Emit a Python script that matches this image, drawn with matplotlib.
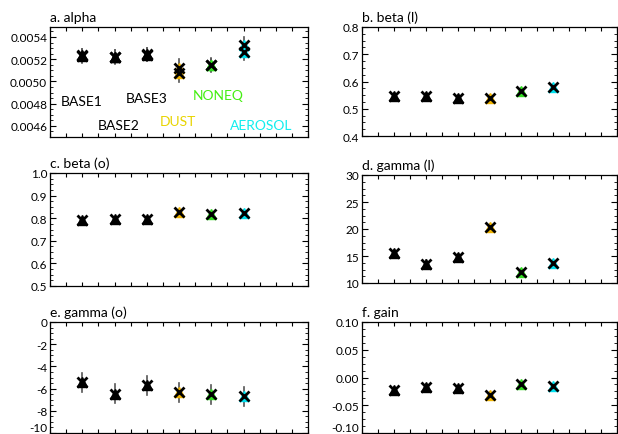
import matplotlib
matplotlib.use("Agg")
import matplotlib.pyplot as plt
from matplotlib.ticker import MultipleLocator, AutoMinorLocator, FormatStrFormatter, FixedLocator
import numpy as np

plt.rcParams['font.family'] = ['Lato', 'DejaVu Sans']

runs = ["BASE1", "BASE2", "BASE3", "DUST", "NONEQ", "AEROSOL"]
run_colors = ["#000000", "#000000", "#000000", "#f0b400", "#33dd22", "#00e0ee"]
label_colors = ["#000000", "#000000", "#000000", "#e8d400", "#44ee11", "#11eeee"]
xpos = [1, 2, 3, 4, 5, 6]

alpha_1 = [0.005236, 0.005224, 0.005245, 0.005120, 0.005150, 0.005330]
alpha_2 = [0.005230, 0.005220, 0.005240, 0.005075, 0.005145, 0.005266]
alpha_err = [0.00006, 0.00006, 0.00006, 0.00008, 0.00006, 0.00007]
beta_l = [0.547, 0.547, 0.540, 0.541, 0.565, 0.581]
beta_l_err = [0.01, 0.01, 0.01, 0.01, 0.01, 0.01]
beta_o = [0.790, 0.796, 0.795, 0.828, 0.819, 0.825]
beta_o_err = [0.01, 0.01, 0.01, 0.01, 0.01, 0.01]
gamma_l = [15.6, 13.6, 14.8, 20.3, 12.0, 13.7]
gamma_l_err = [0.6, 0.6, 0.6, 0.6, 0.6, 0.6]
gamma_o = [-5.45, -6.48, -5.72, -6.33, -6.50, -6.69]
gamma_o_err = [0.85, 0.85, 0.85, 0.85, 0.85, 0.85]
gain = [-0.0217, -0.0163, -0.0193, -0.0307, -0.0114, -0.0157]
gain_err = [0.004, 0.004, 0.004, 0.004, 0.004, 0.004]

label_x = [0.98, 2.13, 3.0, 3.97, 5.22, 6.56]
label_y = [0.004827, 0.004609, 0.004848, 0.004647, 0.004878, 0.004609]

W, H = 618, 435
fig = plt.figure(figsize=(W / 100, H / 100), dpi=100)

def pos(l, r, t, b):
    return [l / W, 1 - b / H, (r - l) / W, (b - t) / H]

panels = [
    dict(rect=pos(50, 308, 28, 138), title="a. alpha", vals=[alpha_1, alpha_2], err=alpha_err,
         ylim=(0.0045, 0.00549), yticks=[0.0046, 0.0048, 0.0050, 0.0052, 0.0054], fmt="%.4f"),
    dict(rect=pos(362, 617, 28, 137), title="b. beta (l)", vals=[beta_l], err=beta_l_err,
         ylim=(0.4, 0.8), yticks=[0.4, 0.5, 0.6, 0.7, 0.8], fmt="%.1f"),
    dict(rect=pos(50, 308, 174, 287), title="c. beta (o)", vals=[beta_o], err=beta_o_err,
         ylim=(0.5, 1.0), yticks=[0.5, 0.6, 0.7, 0.8, 0.9, 1.0], fmt="%.1f"),
    dict(rect=pos(362, 617, 176, 284), title="d. gamma (l)", vals=[gamma_l], err=gamma_l_err,
         ylim=(10, 30), yticks=[10, 15, 20, 25, 30], fmt="%d"),
    dict(rect=pos(50, 308, 323, 434), title="e. gamma (o)", vals=[gamma_o], err=gamma_o_err,
         ylim=(-10, 0), yticks=[-10, -8, -6, -4, -2, 0], fmt="%d", lift=True),
    dict(rect=pos(362, 617, 323, 434), title="f. gain", vals=[gain], err=gain_err,
         ylim=(-0.1, 0.1), yticks=[-0.10, -0.05, 0.00, 0.05, 0.10], fmt="%.2f", lift=True),
]

for i, p in enumerate(panels):
    ax = fig.add_axes(p["rect"])
    ax.set_xlim(0, 8)
    ax.set_ylim(*p["ylim"])
    for series in p["vals"]:
        for x, v, c, e in zip(xpos, series, run_colors, p["err"]):
            ax.plot([x, x], [v - e, v + e], color="#555555", lw=1.2, zorder=2)
            ax.plot(x, v, marker="^", ms=7, color=c, mec=c, ls="none", zorder=3)
    for series in p["vals"]:
        ax.plot(xpos, series, marker="x", ms=6.5, mew=2.0, color="black", ls="none", zorder=4)
    ax.xaxis.set_major_locator(MultipleLocator(0.5))
    ax.xaxis.set_ticklabels([])
    ax.yaxis.set_major_locator(FixedLocator(p["yticks"]))
    ax.yaxis.set_minor_locator(AutoMinorLocator(4))
    ax.yaxis.set_major_formatter(FormatStrFormatter(p["fmt"]))
    ax.tick_params(axis="both", which="major", direction="in", top=True, right=True,
                   length=4, width=0.8, labelsize=8.5, pad=2)
    ax.tick_params(axis="y", which="minor", direction="in", right=True, length=2, width=0.6)
    ax.tick_params(axis="x", which="major", length=3)
    for s in ax.spines.values():
        s.set_linewidth(0.9)
    ax.set_title(p["title"], loc="left", fontsize=10, pad=4)
    if p.get("lift"):
        ticks = ax.yaxis.get_major_ticks()
        ticks[0].label1.set_verticalalignment("bottom")
    if i == 0:
        for name, lx, ly, lc in zip(runs, label_x, label_y, label_colors):
            ax.text(lx, ly, name, color=lc, fontsize=10, ha="center", va="center")

fig.savefig("out.png", dpi=100)
